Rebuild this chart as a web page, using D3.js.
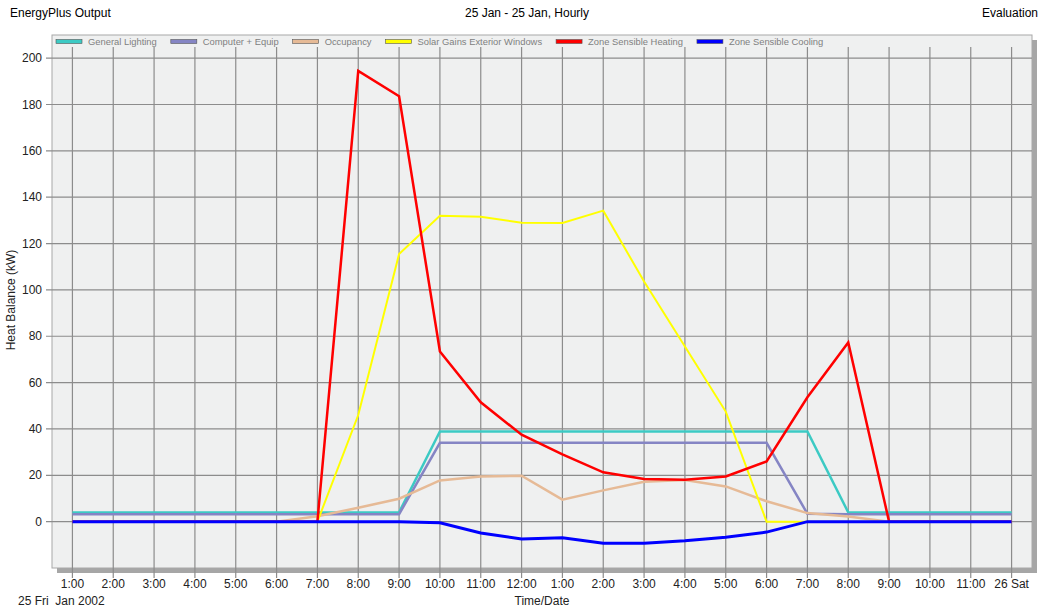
<!DOCTYPE html>
<html>
<head>
<meta charset="utf-8">
<script src="https://cdn.jsdelivr.net/npm/d3@7"></script>
<style>
  body { margin: 0; background: #fff; }
  svg { display: block; font-family: "Liberation Sans", Arial, sans-serif; }
</style>
</head>
<body>
<div class="chart"></div>
<script>
// hours 1..24 (24 = midnight, 26 Sat)
var hours = d3.range(1, 25);
var hourLabels = ["1:00","2:00","3:00","4:00","5:00","6:00","7:00","8:00","9:00","10:00","11:00","12:00",
                  "1:00","2:00","3:00","4:00","5:00","6:00","7:00","8:00","9:00","10:00","11:00","26 Sat"];
var yTicks = [0, 20, 40, 60, 80, 100, 120, 140, 160, 180, 200];

var seriesNames = ["General Lighting", "Computer + Equip", "Occupancy",
                   "Solar Gains Exterior Windows", "Zone Sensible Heating", "Zone Sensible Cooling"];
var seriesColors = ["#3ccac4", "#8585c4", "#e6ba96", "#ffff00", "#ff0000", "#0000ff"];

var lighting  = [4,4,4,4,4,4,4,4,4, 38.9,38.9,38.9,38.9,38.9,38.9,38.9,38.9,38.9,38.9, 4,4,4,4,4];
var equip     = [3.2,3.2,3.2,3.2,3.2,3.2,3.2,3.2,3.2, 34,34,34,34,34,34,34,34,34, 3.4,3.2,3.2,3.2,3.2,3.2];
var occupancy = [0,0,0,0,0,0, 2.3,6,9.9,17.8,19.5,19.8,9.5,13.5,17.2,18,15.2,8.8,3.7,2.2, 0,0,0,0];
var solar     = [0,0,0,0,0,0,0, 46,115.5,132,131.6,129,128.9,134.2,103.6,75.6,47.5, 0,0,0,0,0,0,0];
var heating   = [0,0,0,0,0,0,0, 194.5,183.6,73.4,51.5,37.5,29,21.3,18.4,18.1,19.5,26,53.7,77.3, 0,0,0,0];
var cooling   = [0,0,0,0,0,0,0,0,0, -0.5,-4.9,-7.5,-7,-9.3,-9.3,-8.2,-6.7,-4.5, 0,0,0,0,0,0];

var allSeries = [lighting, equip, occupancy, solar, heating, cooling];

var W = 1040, H = 610;
var plot = {left: 52, right: 1032, top: 35, bottom: 568};

var svg = d3.select(".chart").append("svg")
    .attr("width", W)
    .attr("height", H);

var x = d3.scaleLinear().domain([0.5, 24.5]).range([plot.left, plot.right]);
var y = d3.scaleLinear().domain([-20, 210]).range([plot.bottom, plot.top]);

// header texts
svg.append("text").attr("x", 10).attr("y", 17).style("font-size", "12px").text("EnergyPlus Output");
svg.append("text").attr("x", 527).attr("y", 17).attr("text-anchor", "middle").style("font-size", "12px")
    .text("25 Jan - 25 Jan, Hourly");
svg.append("text").attr("x", 1038).attr("y", 17).attr("text-anchor", "end").style("font-size", "12px")
    .text("Evaluation");

// shadow + plot background
svg.append("rect")
    .attr("x", plot.left + 5).attr("y", plot.top + 5)
    .attr("width", plot.right - plot.left).attr("height", plot.bottom - plot.top)
    .attr("fill", "#a6a6a6");
svg.append("rect")
    .attr("x", plot.left).attr("y", plot.top)
    .attr("width", plot.right - plot.left).attr("height", plot.bottom - plot.top)
    .attr("fill", "#eff0f0")
    .attr("stroke", "#a8a8a8")
    .attr("stroke-width", 1);

// horizontal gridlines + ticks
svg.append("g")
  .selectAll("line")
  .data(yTicks)
  .enter().append("line")
    .attr("x1", plot.left - 6)
    .attr("x2", plot.right)
    .attr("y1", function(d) { return y(d); })
    .attr("y2", function(d) { return y(d); })
    .attr("stroke", "#8c8c8c")
    .attr("stroke-width", 1.2);

// vertical gridlines + ticks
svg.append("g")
  .selectAll("line")
  .data(hours)
  .enter().append("line")
    .attr("x1", function(d) { return x(d); })
    .attr("x2", function(d) { return x(d); })
    .attr("y1", 47)
    .attr("y2", plot.bottom + 10)
    .attr("stroke", "#8c8c8c")
    .attr("stroke-width", 1.2);

// y tick labels
svg.append("g")
  .selectAll("text")
  .data(yTicks)
  .enter().append("text")
    .attr("x", 42)
    .attr("y", function(d) { return y(d) + 4; })
    .attr("text-anchor", "end")
    .style("font-size", "12px")
    .attr("fill", "#222")
    .text(function(d) { return d; });

// x tick labels
svg.append("g")
  .selectAll("text")
  .data(hours)
  .enter().append("text")
    .attr("x", function(d) { return x(d); })
    .attr("y", 588)
    .attr("text-anchor", "middle")
    .style("font-size", "12px")
    .attr("fill", "#222")
    .text(function(d, i) { return hourLabels[i]; });

svg.append("text").attr("x", 18).attr("y", 605).style("font-size", "12px").attr("fill", "#222")
    .attr("xml:space", "preserve")
    .text("25 Fri  Jan 2002");
svg.append("text").attr("x", 542).attr("y", 605).attr("text-anchor", "middle")
    .style("font-size", "12px").attr("fill", "#222").text("Time/Date");

svg.append("text")
    .attr("transform", "translate(15,300) rotate(-90)")
    .attr("text-anchor", "middle")
    .style("font-size", "12px")
    .attr("fill", "#222")
    .text("Heat Balance (kW)");

// lines
var line = d3.line()
    .x(function(d, i) { return x(hours[i]); })
    .y(function(d) { return y(d); });

var widths = [2.5, 2.5, 2.5, 2, 2.5, 3];
svg.append("g")
  .selectAll("path")
  .data(allSeries)
  .enter().append("path")
    .attr("d", line)
    .attr("fill", "none")
    .attr("stroke", function(d, i) { return seriesColors[i]; })
    .attr("stroke-width", function(d, i) { return widths[i]; })
    .attr("stroke-linejoin", "miter");

// legend strip
svg.append("rect")
    .attr("x", plot.left + 1).attr("y", plot.top + 1)
    .attr("width", plot.right - plot.left - 2).attr("height", 11)
    .attr("fill", "#eff0f0");

var legend = svg.append("g").attr("class", "legend");
var lx = 56;
seriesNames.forEach(function(name, i) {
  legend.append("rect")
    .attr("x", lx).attr("y", 39.5)
    .attr("width", 26).attr("height", 4)
    .attr("fill", seriesColors[i])
    .attr("stroke", "#555")
    .attr("stroke-width", 0.6);
  var t = legend.append("text")
    .attr("x", lx + 32).attr("y", 45)
    .style("font-size", "9.4px")
    .attr("fill", "#808080")
    .text(name);
  lx = lx + 32 + t.node().getComputedTextLength() + 14;
});
</script>
</body>
</html>
